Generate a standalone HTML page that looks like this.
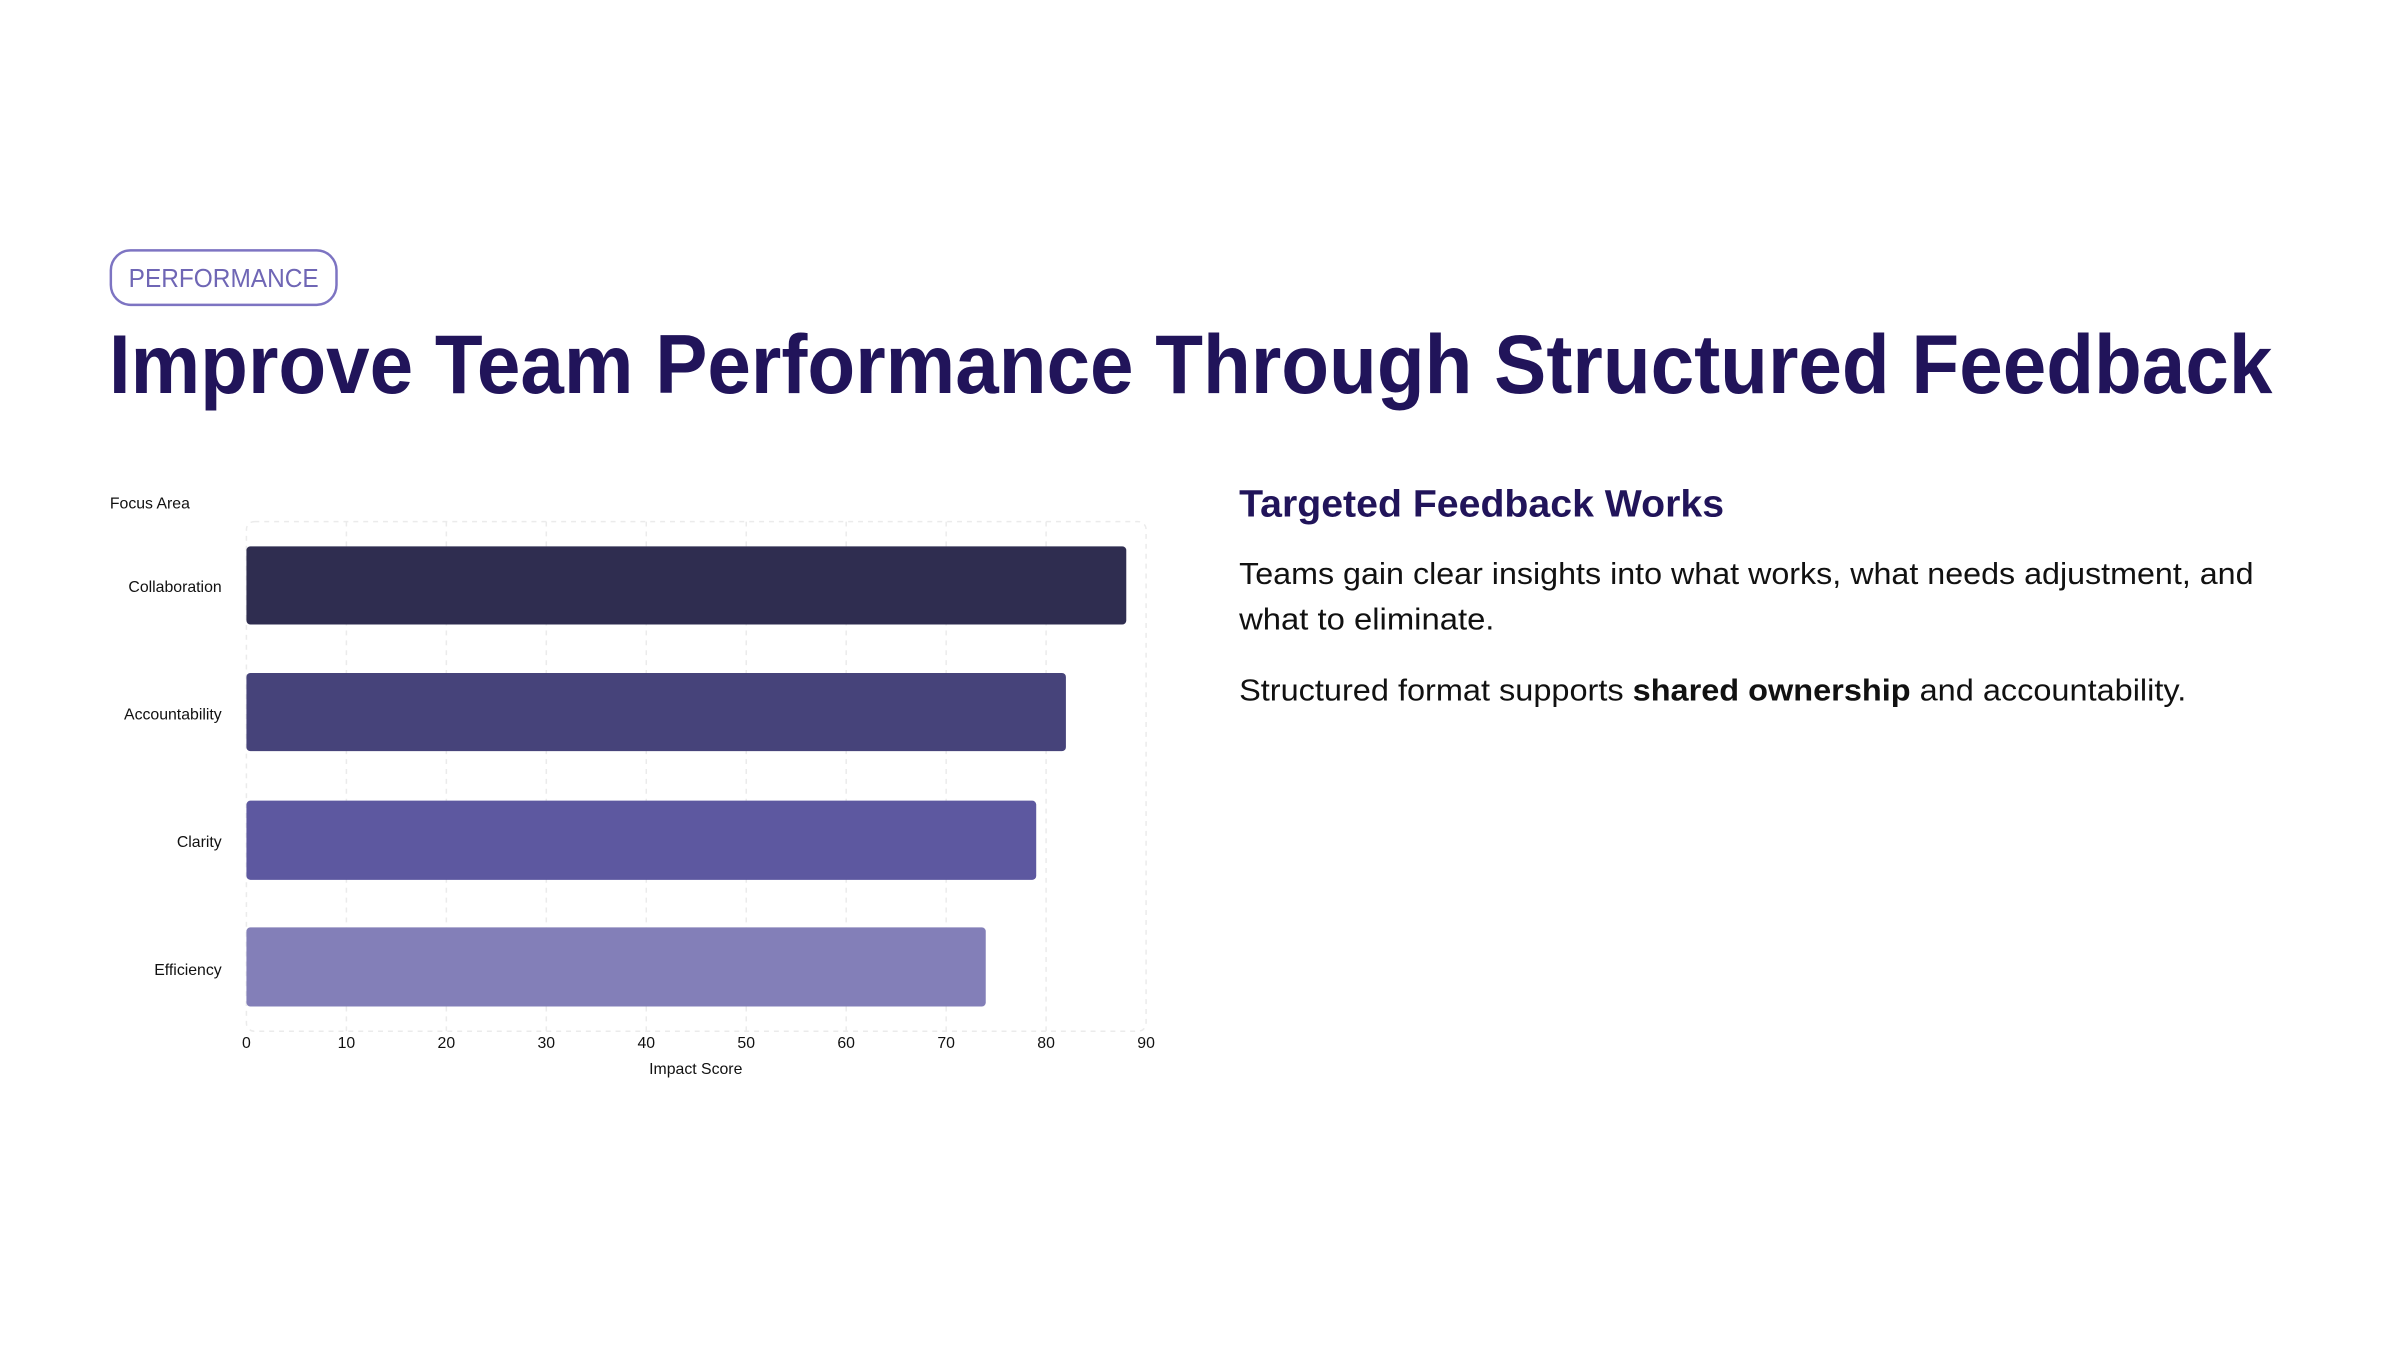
<!DOCTYPE html>
<html><head><meta charset="utf-8"><style>
html,body{margin:0;padding:0;background:#fff;}
svg{display:block;}
text{font-family:"Liberation Sans",sans-serif;}
</style></head><body>
<svg width="2400" height="1350" viewBox="0 0 2400 1350" xmlns="http://www.w3.org/2000/svg">
<rect width="2400" height="1350" fill="#fff"/>
<g transform="scale(0.9897)">
<rect x="112" y="253" width="228" height="55" rx="20" fill="none" stroke="#7d74c2" stroke-width="2.5"/>
<text x="226" y="290" font-size="26" fill="#6f66b5" text-anchor="middle" textLength="192" lengthAdjust="spacingAndGlyphs">PERFORMANCE</text>
<text x="110" y="397" font-size="84" font-weight="bold" fill="#21145a" textLength="2186" lengthAdjust="spacingAndGlyphs">Improve Team Performance Through Structured Feedback</text>

<text x="111" y="514" font-size="16" fill="#111">Focus Area</text>
<g stroke="#ebebeb" stroke-width="1.5" stroke-dasharray="5,5" fill="none">
<rect x="249" y="527" width="909" height="515" rx="8"/>
<line x1="350" y1="527" x2="350" y2="1042"/><line x1="451" y1="527" x2="451" y2="1042"/>
<line x1="552" y1="527" x2="552" y2="1042"/><line x1="653" y1="527" x2="653" y2="1042"/>
<line x1="754" y1="527" x2="754" y2="1042"/><line x1="855" y1="527" x2="855" y2="1042"/>
<line x1="956" y1="527" x2="956" y2="1042"/><line x1="1057" y1="527" x2="1057" y2="1042"/>
</g>
<rect x="249" y="552" width="889" height="79" rx="4" fill="#2f2d50"/>
<rect x="249" y="680" width="828" height="79" rx="4" fill="#46437a"/>
<rect x="249" y="809" width="798" height="80" rx="4" fill="#5d58a0"/>
<rect x="249" y="937" width="747" height="80" rx="4" fill="#837fb8"/>
<g font-size="16" fill="#111" text-anchor="end">
<text x="224" y="598">Collaboration</text>
<text x="224" y="727">Accountability</text>
<text x="224" y="856">Clarity</text>
<text x="224" y="985">Efficiency</text>
</g>
<g font-size="16" fill="#111" text-anchor="middle">
<text x="249" y="1059">0</text><text x="350" y="1059">10</text><text x="451" y="1059">20</text>
<text x="552" y="1059">30</text><text x="653" y="1059">40</text><text x="754" y="1059">50</text>
<text x="855" y="1059">60</text><text x="956" y="1059">70</text><text x="1057" y="1059">80</text>
<text x="1158" y="1059">90</text>
<text x="703" y="1085">Impact Score</text>
</g>

<text x="1252" y="522" font-size="38" font-weight="bold" fill="#21145a" textLength="490" lengthAdjust="spacingAndGlyphs">Targeted Feedback Works</text>
<text x="1252" y="590" font-size="31" fill="#111" textLength="1025" lengthAdjust="spacingAndGlyphs">Teams gain clear insights into what works, what needs adjustment, and</text>
<text x="1252" y="636" font-size="31" fill="#111" textLength="258" lengthAdjust="spacingAndGlyphs">what to eliminate.</text>
<text x="1252" y="708" font-size="31" fill="#111" textLength="957" lengthAdjust="spacingAndGlyphs">Structured format supports <tspan font-weight="bold">shared ownership</tspan> and accountability.</text>
</g>
</svg>
</body></html>
